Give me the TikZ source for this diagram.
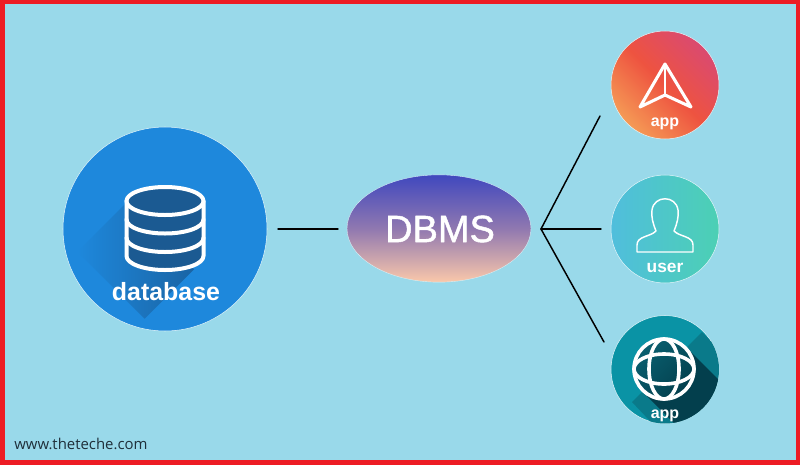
\documentclass[tikz,border=0pt]{standalone}
\usepackage{fontspec}
\setmainfont{Liberation Sans}
\newfontfamily\webfont{Open Sans}
\newfontface\dbmsfont[FakeBold=1.2]{Liberation Sans}
\usetikzlibrary{shapes.geometric}
\definecolor{skybg}{HTML}{99D9EA}
\definecolor{redframe}{HTML}{ED1C24}
\definecolor{dbblue}{HTML}{1E88DC}
\definecolor{dbshadow}{HTML}{1A64A4}
\definecolor{dbdark}{HTML}{1B5A92}
\definecolor{globeteal}{HTML}{0A93A5}
\definecolor{globemid}{HTML}{0A7A8A}
\definecolor{globedark}{HTML}{033F4D}
\definecolor{globeinner}{HTML}{0A6070}
\definecolor{msblue}{HTML}{4048BE}
\definecolor{msmid}{HTML}{9078B0}
\definecolor{mspeach}{HTML}{FAC8AA}
\definecolor{appone}{HTML}{F59A55}
\definecolor{apptwo}{HTML}{EE5340}
\definecolor{appthree}{HTML}{DA4A70}
\definecolor{userone}{HTML}{50BEDC}
\definecolor{usertwo}{HTML}{4CD0B4}
\definecolor{webtext}{HTML}{1F2F3A}
\tikzset{
  disk/.style={circle,inner sep=0pt,minimum size=81pt,draw=white!70!skybg,line width=0.4pt},
  lbl/.style={text=white,font=\bfseries\fontsize{12}{12}\selectfont,inner sep=0pt},
  dbline/.style={white,line width=3pt},
  globeline/.style={white,line width=2.7pt},
  link/.style={draw=black,line width=1.1pt}
}
\begin{document}
\begin{tikzpicture}[line cap=round,line join=round,x=0.75pt,y=-0.75pt]
\useasboundingbox (0,0) rectangle (800,465);
\fill[redframe] (0,0) rectangle (800,465);
\fill[skybg] (5,4) rectangle (796,460);
% database
\node[circle,inner sep=0pt,minimum size=153pt,fill=dbblue,draw=white!70!skybg,line width=0.4pt] (database) at (165,229) {};
\begin{scope}
\clip (165,229) circle (102);
\shade[rotate around={45:(127,202)},left color=dbblue,right color=dbshadow] (57,202) rectangle (127,297);
\end{scope}
\fill[dbdark] (126.5,201) -- (126.5,256) arc[start angle=180,end angle=0,x radius=38.5,y radius=14] -- (203.5,201) -- cycle;
\draw[dbline] (126.5,201) -- (126.5,256) arc[start angle=180,end angle=0,x radius=38.5,y radius=14] -- (203.5,201);
\draw[dbline] (126.5,219.5) arc[start angle=180,end angle=0,x radius=38.5,y radius=14];
\draw[dbline] (126.5,238) arc[start angle=180,end angle=0,x radius=38.5,y radius=14];
\draw[dbline,fill=dbdark] (165,201) ellipse[x radius=38.5,y radius=14];
\node[text=white,font=\bfseries\fontsize{18.7}{18.7}\selectfont,inner sep=0pt] (dbname) at (166,292) {database};
% dbms
\node[ellipse,inner sep=0pt,minimum width=138pt,minimum height=80.5pt,top color=msblue,bottom color=mspeach,middle color=msmid,draw=white!60!skybg,line width=0.3pt] (dbms) at (439,228.5) {};
\node[text=white,font=\dbmsfont\fontsize{28.5}{28.5}\selectfont,inner sep=0pt] (dbmsname) at (440,229) {DBMS};
% right side
\node[disk,left color=appone,right color=appthree,middle color=apptwo,shading angle=135] (appa) at (665,85) {};
\node[disk,left color=userone,right color=usertwo] (user) at (665,229) {};
\node[disk,fill=globeteal] (appb) at (665,369.5) {};
\draw[white,line width=2.3pt] (665,64) -- (640,107) -- (665,95) -- (691,107) -- cycle;
\draw[white,line width=1.2pt] (665,64) -- (665,95);
\node[lbl] (appaname) at (665,124) {app};
\draw[white,line width=1.1pt] (637,252) -- (637,245) .. controls (637,236) and (650,237) .. (656,231) .. controls (653,224) and (651,216) .. (652,210) .. controls (654,195) and (676,195) .. (678,210) .. controls (679,216) and (677,224) .. (674,231) .. controls (680,237) and (693,236) .. (693,245) -- (693,252) -- cycle;
\node[lbl,font=\bfseries\fontsize{13}{13}\selectfont] (username) at (665,268) {user};
\begin{scope}
\clip (665,369.5) circle (54);
\fill[globemid] (702,332) -- (772,402) -- (700,474) -- (632,402) -- cycle;
\fill[globedark] (686,347) -- (756,417) -- (712,461) -- (642,391) -- cycle;
\end{scope}
\shade[left color=globeinner,right color=globedark,shading angle=45] (664,369) circle (30);
\draw[globeline] (664,369) circle (30);
\draw[globeline] (664,369) ellipse[x radius=30,y radius=15];
\draw[globeline] (664,369) ellipse[x radius=15,y radius=30];
\node[lbl] (appbname) at (665,416) {app};
% links
\coordinate (dbend) at (278,229);
\coordinate (dbmsend) at (338,229);
\coordinate (hub) at (541,229);
\coordinate (enda) at (600,116);
\coordinate (endb) at (601,229);
\coordinate (endc) at (604,342);
\draw[link] (dbend) -- (dbmsend);
\draw[link] (hub) -- (enda);
\draw[link] (hub) -- (endb);
\draw[link] (hub) -- (endc);
\node[font=\webfont\fontsize{11.2}{11.2}\selectfont,text=webtext,anchor=west,inner sep=0pt] (site) at (14,444) {www.theteche.com};
\end{tikzpicture}
\end{document}
